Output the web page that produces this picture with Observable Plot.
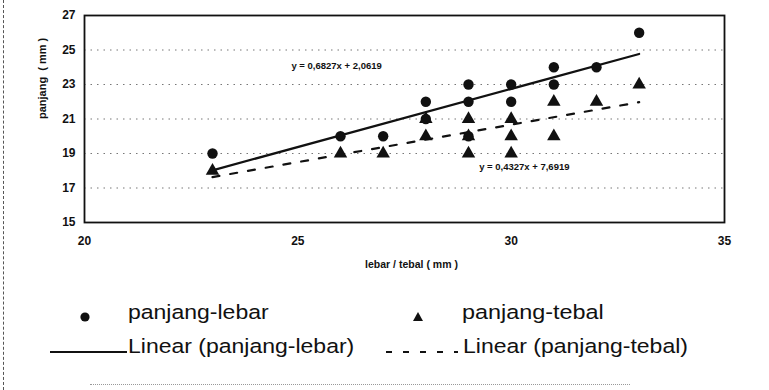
<!DOCTYPE html>
<html>
<head>
<meta charset="utf-8">
<script src="https://cdn.jsdelivr.net/npm/d3@7"></script>
<script src="https://cdn.jsdelivr.net/npm/@observablehq/plot@0.6"></script>
<style>
  body { margin: 0; background: #fff; }
  #wrap { position: relative; width: 769px; height: 390px; overflow: hidden; background: #fff; }
  #chart { position: absolute; left: 0; top: 0; }
  #legend { position: absolute; left: 0; top: 280px; }
  #scanL { position: absolute; left: 3px; top: 0; height: 390px; border-left: 1px dashed #555; }
  #scanB { position: absolute; left: 90px; top: 384px; width: 540px; border-top: 1px dotted #999; }
</style>
</head>
<body>
<div id="wrap">
  <div id="scanL"></div>
  <div id="scanB"></div>
  <div id="chart"></div>
  <svg id="legend" width="769" height="110" font-family="'Liberation Sans', Arial, sans-serif" fill="#111">
    <circle cx="85" cy="37" r="4.6" fill="#111"></circle>
    <text x="128" y="39" font-size="19.5" transform="translate(128,0) scale(1.18,1) translate(-128,0)">panjang-lebar</text>
    <path d="M418,32 L423,41 L413,41 Z" fill="#111"></path>
    <text x="462" y="39" font-size="19.5" transform="translate(462,0) scale(1.2,1) translate(-462,0)">panjang-tebal</text>
    <line x1="50" y1="72" x2="127" y2="72" stroke="#111" stroke-width="2.2"></line>
    <text x="128" y="73" font-size="19.5" transform="translate(128,0) scale(1.18,1) translate(-128,0)">Linear (panjang-lebar)</text>
    <line x1="386" y1="72" x2="458" y2="72" stroke="#111" stroke-width="2.2" stroke-dasharray="6,11"></line>
    <text x="463" y="73" font-size="19.5" transform="translate(463,0) scale(1.18,1) translate(-463,0)">Linear (panjang-tebal)</text>
  </svg>
</div>
<script>
// panjang-lebar (circles)
const xLebar = [23, 26, 27, 28, 28, 29, 29, 29, 30, 30, 31, 31, 32, 33];
const yLebar = [19, 20, 20, 22, 21, 23, 22, 20, 23, 22, 24, 23, 24, 26];
// panjang-tebal (triangles)
const xTebal = [23, 26, 27, 28, 28, 29, 29, 29, 30, 30, 30, 31, 31, 32, 33];
const yTebal = [18, 19, 19, 21, 20, 21, 20, 19, 21, 20, 19, 22, 20, 22, 23];
// axis ticks
const xTicks = [20, 25, 30, 35];
const yTicks = [15, 17, 19, 21, 23, 25, 27];
const gridY = [17, 19, 21, 23, 25];
// trendline equations as printed
const eqSlope = ["0,6827", "0,4327"];
const eqIntercept = ["2,0619", "7,6919"];
const eqLabels = eqSlope.map((s, i) => `y = ${s}x + ${eqIntercept[i]}`);
const xTitle = "lebar / tebal ( mm )";
const yTitle = "panjang  ( mm )";

const lebar = xLebar.map((x, i) => ({x, y: yLebar[i]}));
const tebal = xTebal.map((x, i) => ({x, y: yTebal[i]}));

const chart = Plot.plot({
  width: 769,
  height: 280,
  marginLeft: 84,
  marginRight: 45,
  marginTop: 15,
  marginBottom: 58,
  style: {fontFamily: "'Liberation Sans', Arial, sans-serif", fontWeight: "bold", fontSize: "12px", color: "#111", background: "transparent"},
  x: {domain: [20, 35], ticks: xTicks, tickSize: 0, tickPadding: 14, label: null},
  y: {domain: [15, 27], ticks: yTicks, tickSize: 0, tickPadding: 9, label: null},
  marks: [
    Plot.ruleY(gridY, {stroke: "#777", strokeDasharray: "1.5,5", strokeWidth: 1}),
    Plot.linearRegressionY(lebar, {x: "x", y: "y", stroke: "#111", strokeWidth: 2.2, ci: 0}),
    Plot.linearRegressionY(tebal, {x: "x", y: "y", stroke: "#111", strokeWidth: 2.2, strokeDasharray: "7,11", ci: 0}),
    Plot.dot(lebar, {x: "x", y: "y", r: 5.2, fill: "#111", symbol: "circle"}),
    Plot.dot(tebal, {x: "x", y: "y", r: 5, fill: "#111", symbol: "triangle"}),
    Plot.frame({stroke: "#111", strokeWidth: 1.8}),
    Plot.text([eqLabels[0]], {x: () => 24.85, y: () => 24.1, text: d => d, textAnchor: "start", fontSize: 9.5, fontWeight: "bold"}),
    Plot.text([eqLabels[1]], {x: () => 29.25, y: () => 18.2, text: d => d, textAnchor: "start", fontSize: 9.5, fontWeight: "bold"}),
    Plot.text([xTitle], {frameAnchor: "bottom", text: d => d, dy: 45, dx: 7, fontSize: 10.5, fontWeight: "bold"}),
    Plot.text([yTitle], {frameAnchor: "left", text: d => d, dx: -42, rotate: -90, fontSize: 11, fontWeight: "bold"})
  ]
});
document.getElementById("chart").appendChild(chart);
</script>
</body>
</html>
